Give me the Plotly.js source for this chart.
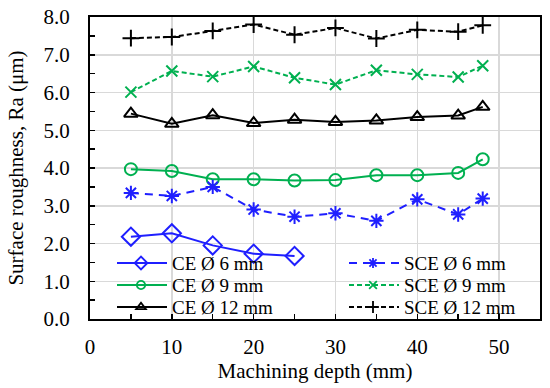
<!DOCTYPE html>
<html><head><meta charset="utf-8">
<script src="https://cdn.plot.ly/plotly-3.0.1.min.js"></script>
<style>html,body{margin:0;padding:0;background:#fff}#chart{width:550px;height:388px}</style>
</head><body><div id="chart"></div>
<script>
const depth = [5, 10, 15, 20, 25, 30, 35, 40, 45, 48];
const depthCE6 = [5, 10, 15, 20, 25];
const ce6 = [2.18, 2.27, 1.95, 1.73, 1.67];
const ce9 = [3.97, 3.92, 3.70, 3.70, 3.67, 3.68, 3.81, 3.81, 3.87, 4.23];
const ce12 = [5.44, 5.17, 5.40, 5.19, 5.28, 5.22, 5.26, 5.35, 5.39, 5.62];
const sce6 = [3.34, 3.26, 3.50, 2.90, 2.71, 2.80, 2.60, 3.17, 2.77, 3.19];
const sce9 = [6.01, 6.57, 6.42, 6.69, 6.39, 6.21, 6.59, 6.48, 6.41, 6.71];
const sce12 = [7.44, 7.47, 7.63, 7.80, 7.53, 7.71, 7.43, 7.66, 7.61, 7.78];
const names = ['CE Ø 6 mm','CE Ø 9 mm','CE Ø 12 mm','SCE Ø 6 mm','SCE Ø 9 mm','SCE Ø 12 mm'];

const BLUE = '#1f1fff', GREEN = '#00b050', BLACK = '#000000';
function tr(x, y, name, color, dash, symbol, size, leg) {
  return {x: x, y: y, name: name, type: 'scatter', mode: 'lines+markers',
    line: {color: color, width: 2, dash: dash},
    marker: {symbol: symbol, size: size, color: color, line: {color: color, width: 2}},
    legend: leg};
}
const data = [
  tr(depthCE6, ce6, names[0], BLUE, 'solid', 'diamond-open', 14, 'legend'),
  tr(depth, ce9, names[1], GREEN, 'solid', 'circle-open', 12, 'legend'),
  tr(depth, ce12, names[2], BLACK, 'solid', 'triangle-up-open', 12, 'legend'),
  tr(depth, sce6, names[3], BLUE, '8px,6px', 'asterisk-open', 12, 'legend2'),
  tr(depth, sce9, names[4], GREEN, '5px,3px', 'x-thin-open', 11, 'legend2'),
  tr(depth, sce12, names[5], BLACK, '5px,3px', 'cross-thin-open', 12, 'legend2')
];
const F = 'Liberation Serif, Times New Roman, serif';
const layout = {
  width: 550, height: 388,
  margin: {l: 90, r: 10, t: 17, b: 69},
  paper_bgcolor: '#fff', plot_bgcolor: '#fff',
  font: {family: F, size: 21, color: '#000'},
  showlegend: true,
  xaxis: {range: [0, 55], dtick: 10, tick0: 0, ticks: 'inside', ticklen: 5, tickwidth: 1.5, tickcolor: '#000',
    showgrid: true, gridcolor: '#d9d9d9', gridwidth: 1.5, zeroline: false,
    showline: true, linecolor: '#000', linewidth: 2, mirror: true, ticklabelstandoff: 8,
    minor: {dtick: 5, ticks: 'inside', ticklen: 5, tickwidth: 1.5, tickcolor: '#000', showgrid: false},
    tickfont: {size: 21}, title: {text: 'Machining depth (mm)', font: {size: 21}, standoff: 0}},
  yaxis: {range: [0, 8], dtick: 1, tick0: 0, tickformat: '.1f', ticks: 'inside', ticklen: 5, tickwidth: 1.5, tickcolor: '#000',
    showgrid: true, gridcolor: '#d9d9d9', gridwidth: 1.5, zeroline: false,
    showline: true, linecolor: '#000', linewidth: 2, mirror: true, ticklabelstandoff: 14,
    minor: {dtick: 0.5, ticks: 'inside', ticklen: 5, tickwidth: 1.5, tickcolor: '#000', showgrid: false},
    tickfont: {size: 21}, title: {text: 'Surface roughness, Ra (μm)', font: {size: 21}, standoff: 14}},
  legend: {x: 0.03, y: 0.235, xanchor: 'left', yanchor: 'top', bgcolor: 'rgba(0,0,0,0)',
    font: {size: 19}, tracegroupgap: 0, itemwidth: 30},
  legend2: {x: 0.535, y: 0.235, xanchor: 'left', yanchor: 'top', bgcolor: 'rgba(0,0,0,0)',
    font: {size: 19}, tracegroupgap: 0, itemwidth: 30}
};
// legend placement (pixels): text start x of each column, center y of first row, row step
const legendPlace = {legend: {x: 132, y: 263}, legend2: {x: 364, y: 263}};
const ROW = 22;
Plotly.newPlot('chart', data, layout, {displayModeBar: false, staticPlot: true}).then(function (gd) {
  Object.keys(legendPlace).forEach(function (id) {
    const g = gd.querySelector('g.infolayer > g.' + id);
    if (!g) return;
    const p = legendPlace[id];
    g.setAttribute('transform', 'translate(' + p.x + ',' + (p.y - 20) + ')');
    g.querySelectorAll('[clip-path]').forEach(function (e) { e.removeAttribute('clip-path'); });
    g.querySelectorAll('g.traces').forEach(function (t, i) {
      t.setAttribute('transform', 'translate(0,' + (20 + i * ROW) + ')');
      t.querySelectorAll('g.legendlines path').forEach(function (pth) { pth.setAttribute('d', 'M-15,0h50'); });
      t.querySelectorAll('g.legendpoints path').forEach(function (pt) {
        pt.setAttribute('transform', 'translate(9,0) scale(0.7)');
        pt.style.strokeWidth = '2.6px';
      });
    });
  });
});
</script></body></html>
